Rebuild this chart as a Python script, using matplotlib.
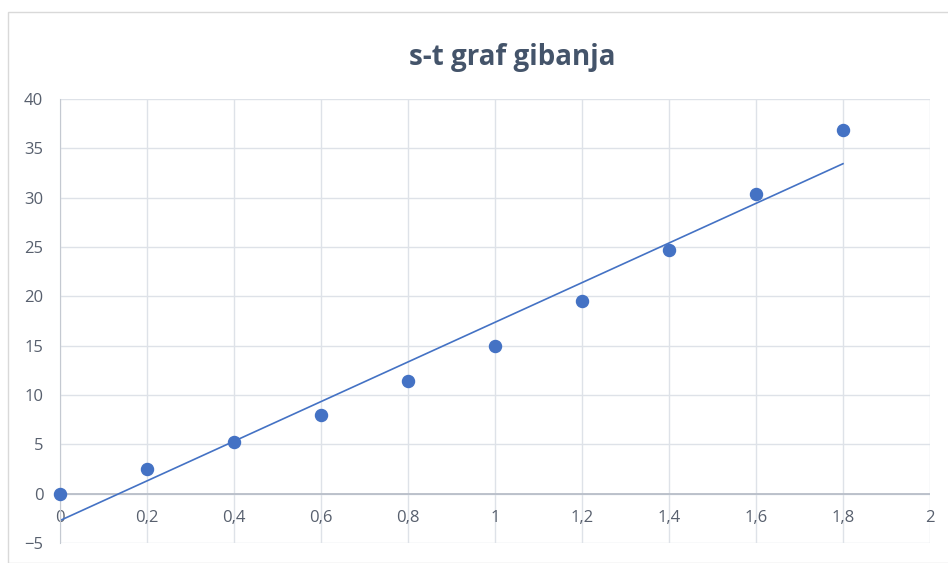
import numpy as np
import matplotlib.pyplot as plt
from matplotlib.patches import Rectangle

# Data
t = [0, 0.2, 0.4, 0.6, 0.8, 1.0, 1.2, 1.4, 1.6, 1.8]
s = [0, 2.5, 5.2, 8.0, 11.4, 15.0, 19.5, 24.7, 30.4, 36.9]
x_ticks = [0, 0.2, 0.4, 0.6, 0.8, 1.0, 1.2, 1.4, 1.6, 1.8, 2.0]
x_labels = ['0', '0,2', '0,4', '0,6', '0,8', '1', '1,2', '1,4', '1,6', '1,8', '2']
y_ticks = [-5, 0, 5, 10, 15, 20, 25, 30, 35, 40]

blue = '#4472C4'
text_col = '#58606E'
grid_col = '#DEE2E8'

plt.rcParams['font.family'] = ['Open Sans', 'DejaVu Sans']

fig = plt.figure(figsize=(9.48, 5.63), dpi=100)
W, H = 948, 563

# chart border
fig.patches.append(Rectangle((8 / W, 0), 1, 1 - 12 / H, transform=fig.transFigure,
                             fill=False, edgecolor='#D9D9D9', linewidth=1))

ax = fig.add_axes([60 / W, 1 - 543 / H, 870 / W, 444 / H])
ax.set_xlim(0, 2)
ax.set_ylim(-5, 40)

ax.set_xticks(x_ticks)
ax.set_xticklabels(x_labels)
ax.set_yticks(y_ticks)
ax.grid(True, color=grid_col, linewidth=1)
ax.set_axisbelow(True)

for side in ['top', 'right', 'bottom']:
    ax.spines[side].set_visible(False)
ax.spines['left'].set_color('#C4C9D1')
ax.axhline(0, color='#B8BEC8', linewidth=1.3, zorder=1)

ax.tick_params(axis='both', length=0, labelsize=12, labelcolor=text_col)
ax.tick_params(axis='y', pad=12)
# x labels sit just under the y=0 line
for lbl in ax.get_xticklabels():
    lbl.set_transform(ax.get_xaxis_transform())
    lbl.set_y(0.075)

# linear trend line
k, n = np.polyfit(t, s, 1)
tt = np.array([t[0], t[-1]])
ax.plot(tt, k * tt + n, color=blue, linewidth=1.2, zorder=2)
ax.scatter(t, s, s=75, color=blue, zorder=3, clip_on=False)

fig.text(512 / W, 1 - 58 / H, 's-t graf gibanja', ha='center', va='center',
         fontsize=20, fontweight='bold', color='#44546A')

plt.savefig('out.png', dpi=100)
